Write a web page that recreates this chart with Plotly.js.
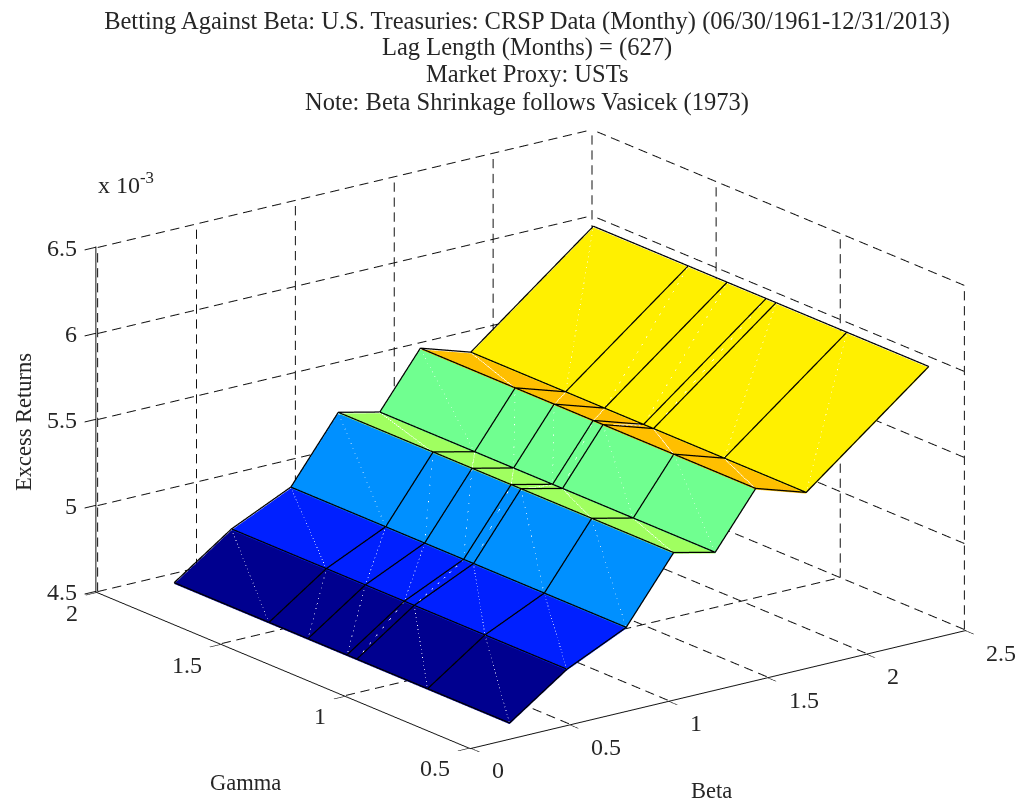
<!DOCTYPE html>
<html><head><meta charset="utf-8">
<script src="https://cdn.plot.ly/plotly-3.0.0.min.js"></script>
<style>html,body{margin:0;padding:0;background:#fff}#c{width:1018px;height:804px}</style>
</head><body><div id="c"></div>
<script>
// Data (z in units of 10^-3)
const betas  = [0.20, 0.49, 0.79, 1.03, 1.24, 1.445, 1.70, 2.32];
const gammas = [0.50, 0.83, 1.115, 1.155, 1.312, 1.469, 1.851];
const returnsByBeta = [4.58, 4.813, 4.974, 5.343, 5.287, 5.602, 5.509, 6.071];
const stripColors = ['#00008f','#0020ff','#0090ff','#a0ff60','#70ff90','#ffbf00','#fff000'];
const betaTicks  = [0, 0.5, 1, 1.5, 2, 2.5];
const gammaTicks = [0.5, 1, 1.5, 2];
const zTicks     = [4.5, 5, 5.5, 6, 6.5];
const titleLines = ['Betting Against Beta: U.S. Treasuries: CRSP Data (Monthy) (06/30/1961-12/31/2013)',
  'Lag Length (Months) = (627)','Market Proxy: USTs','Note: Beta Shrinkage follows Vasicek (1973)'];
const titleLineY = [20, 47, 74, 102];

const FONT = '"Liberation Serif", serif', INK = '#262626';
const xMin = betaTicks[0], xMax = betaTicks[betaTicks.length-1];
const yMin = gammaTicks[0], yMax = gammaTicks[gammaTicks.length-1];
const zMin = zTicks[0], zMax = zTicks[zTicks.length-1];
const lift = 0.007; // keeps the drawn edges just above the faces they lie on
const pad = 0.004;  // keeps rules on the box faces inside the scene's clipping bounds

// mesh
const mx=[],my=[],mz=[],I=[],J=[],K=[],fc=[];
const nG = gammas.length;
betas.forEach((b,r)=>gammas.forEach(g=>{mx.push(b);my.push(g);mz.push(returnsByBeta[r]);}));
for(let r=0;r<betas.length-1;r++)for(let c=0;c<nG-1;c++){
  const a=r*nG+c,b=a+1,d=(r+1)*nG+c,e=d+1;
  I.push(a,a);J.push(e,e);K.push(b,d);fc.push(stripColors[r],stripColors[r]);
}
const surface={type:'mesh3d',x:mx,y:my,z:mz,i:I,j:J,k:K,facecolor:fc,flatshading:true,
  lighting:{ambient:1,diffuse:0,specular:0,roughness:1,fresnel:0},hoverinfo:'skip',showscale:false};

function polyTrace(segs,line){
  const x=[],y=[],z=[];
  segs.forEach(s=>{s.forEach(p=>{x.push(p[0]);y.push(p[1]);z.push(p[2]);});x.push(null);y.push(null);z.push(null);});
  return {type:'scatter3d',mode:'lines',x,y,z,line,hoverinfo:'skip',showlegend:false};
}
// dashed grid: each rule is split into short pieces along its length
const dashCount={x:34,y:27,z:23};
function dashed(p,q,n){const out=[];const at=t=>[0,1,2].map(a=>p[a]+(q[a]-p[a])*t);
  for(let i=0;i<n;i++)out.push([at(i/n),at((i+0.62)/n)]);return out;}
const gridSegs=[];
betaTicks.forEach(b=>{if(b!==xMin)gridSegs.push(...dashed([b,yMin,zMin],[b,yMax,zMin],dashCount.y));gridSegs.push(...dashed([b,yMax,zMin],[b,yMax,zMax],dashCount.z));});
gammaTicks.forEach(g=>{if(g!==yMin)gridSegs.push(...dashed([xMin,g,zMin],[xMax,g,zMin],dashCount.x));gridSegs.push(...dashed([xMax,g,zMin],[xMax,g,zMax],dashCount.z));});
zTicks.forEach(z=>{gridSegs.push(...dashed([xMin,yMax,z],[xMax,yMax,z],dashCount.x));gridSegs.push(...dashed([xMax,yMin,z],[xMax,yMax,z],dashCount.y));});
const grid=polyTrace(gridSegs,{color:'#111',width:2});
// surface edges
const edgeSegs=[];
betas.forEach((b,r)=>edgeSegs.push(gammas.map(g=>[b,g,returnsByBeta[r]+lift])));
gammas.forEach(g=>edgeSegs.push(betas.map((b,r)=>[b,g,returnsByBeta[r]+lift])));
const edges=polyTrace(edgeSegs,{color:'#000',width:2.5});
const seamSegs=[];
for(let r=0;r<betas.length-1;r++)for(let c=0;c<nG-1;c++)
  seamSegs.push([[betas[r],gammas[c],returnsByBeta[r]+lift*0.6],[betas[r+1],gammas[c+1],returnsByBeta[r+1]+lift*0.6]]);
const seams=polyTrace(seamSegs,{color:'rgba(255,255,255,0.35)',width:1.5});

const ax=(ticks,range,len)=>({range:[range[0]-pad,range[1]+pad],tickmode:'array',tickvals:ticks,ticktext:ticks.map(String),
  showgrid:false,zeroline:false,showbackground:false,showspikes:false,showline:true,linecolor:'#111',linewidth:2,
  ticks:'outside',ticklen:len,tickcolor:'#111',tickwidth:2,showticklabels:false,title:{text:''}});
const k=1.6, S=1.70;
const note=(text,x,y,size,extra)=>Object.assign({text,xref:'paper',yref:'paper',x:x/1018,y:1-y/804,
  xanchor:'center',yanchor:'middle',showarrow:false,font:{family:FONT,size,color:INK}},extra||{});
const tickLabel=(x,y,z,v,xanchor,xshift,yshift)=>({x,y,z,text:String(v),showarrow:false,xanchor,yanchor:'middle',xshift,yshift,
  font:{family:FONT,size:24,color:INK}});
const tickLabels=[
  ...betaTicks.map(b=>tickLabel(b,yMin,zMin,b,'left',20,-23)),
  ...gammaTicks.map(g=>tickLabel(xMin,g,zMin,g,'right',-18,-21)),
  ...zTicks.map(z=>tickLabel(xMin,yMax,z,z,'right',-19,0))
];
const layout={width:1018,height:804,margin:{l:0,r:0,t:0,b:0},paper_bgcolor:'#fff',showlegend:false,
  font:{family:FONT,color:INK},
  title:{text:titleLines[0],x:527/1018,xanchor:'center',y:1-titleLineY[0]/804,yanchor:'middle',font:{family:FONT,size:24.5,color:INK}},
  scene:{domain:{x:[0.0432,1],y:[0,0.909]},
    aspectmode:'manual',aspectratio:{x:S,y:S,z:0.586*S},
    camera:{projection:{type:'orthographic'},up:{x:0,y:0,z:1},center:{x:0,y:0,z:0},
      eye:{x:-0.5717*k,y:-0.7573*k,z:0.3157*k}},
    xaxis:ax(betaTicks,[xMin,xMax],14),yaxis:ax(gammaTicks,[yMin,yMax],14),zaxis:ax(zTicks,[zMin,zMax],14),
    annotations:tickLabels},
  annotations:[
   note(titleLines[1],527,titleLineY[1],24.5),
   note(titleLines[2],527,titleLineY[2],24.5),
   note(titleLines[3],527,titleLineY[3],24.5),
   note('x 10<sup>-3</sup>',126,183,24),
   note('Excess Returns',23,422,22.5,{textangle:-90}),
   note('Gamma',245,782,22.5),
   note('Beta',711,790,22.5)
  ]};
Plotly.newPlot('c',[grid,surface,seams,edges],layout,{displayModeBar:false});
</script></body></html>
